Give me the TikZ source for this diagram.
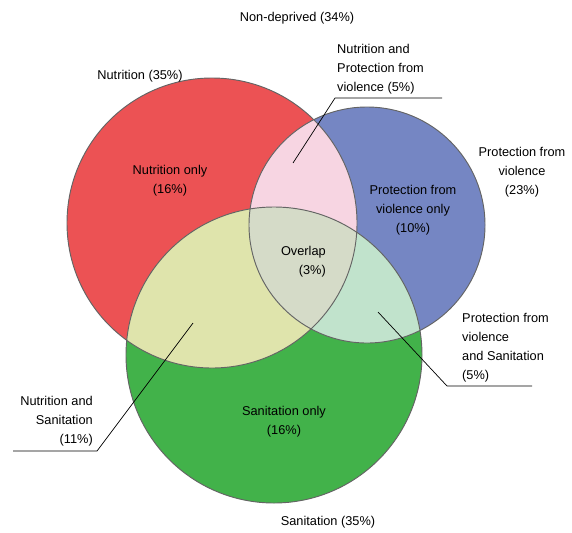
\documentclass[tikz,border=0pt]{standalone}
\usepackage{fontspec}
\setmainfont{Liberation Sans}
\usetikzlibrary{positioning}
\definecolor{nutri}{RGB}{236,82,84}
\definecolor{protec}{RGB}{117,134,195}
\definecolor{sanit}{RGB}{66,178,74}
\definecolor{nutriprotec}{RGB}{247,213,226}
\definecolor{nutrisanit}{RGB}{223,228,172}
\definecolor{protecsanit}{RGB}{193,227,204}
\definecolor{triple}{RGB}{213,219,200}
\definecolor{contour}{RGB}{100,100,100}

\begin{document}
\begin{tikzpicture}[x=0.03cm, y=-0.03cm, font=\fontsize{10.9}{16.2}\selectfont,
		lbl/.style={inner sep=0pt},
		leader/.style={draw=black, line width=0.6pt},
		rim/.style={draw=contour, line width=0.8pt}]
	\useasboundingbox (0,0) rectangle (572,532);
	
	% centres of the three sets
	\coordinate (cN) at (212,223);
	\coordinate (cP) at (367,225);
	\coordinate (cS) at (274,355);
	
	% plain sets
	\fill[nutri] (cN) circle [radius=145];
	\fill[protec] (cP) circle [radius=118];
	\fill[sanit] (cS) circle [radius=148];
	
	% pairwise overlaps
	\begin{scope}
		\clip (cN) circle [radius=145];
		\fill[nutriprotec] (cP) circle [radius=118];
		\fill[nutrisanit] (cS) circle [radius=148];
	\end{scope}
	\begin{scope}
		\clip (cP) circle [radius=118];
		\fill[protecsanit] (cS) circle [radius=148];
		\clip (cN) circle [radius=145];
		\fill[triple] (cS) circle [radius=148];
	\end{scope}
	
	\draw[rim] (cN) circle [radius=145];
	\draw[rim] (cP) circle [radius=118];
	\draw[rim] (cS) circle [radius=148];
	
	% labels
	\node[lbl] (nonDep) at (297,18) {Non-deprived (34\%)};
	\node[lbl] (nutTot) at (140,76) {Nutrition (35\%)};
	\node[lbl, align=center] (nutOnly) at (170,181) {Nutrition only\\(16\%)};
	\node[lbl, align=left, anchor=west] (nutProt) at (337,69.5)
		{Nutrition and\\Protection from\\violence (5\%)};
	\node[lbl, align=center] (protTot) at (522,172) {Protection from\\violence\\(23\%)};
	\node[lbl, align=center] (protOnly) at (413,210) {Protection from\\violence only\\(10\%)};
	\node[lbl, align=right, anchor=east] (overlapTxt) at (326,262) {Overlap\\(3\%)};
	\node[lbl, align=left, anchor=west] (protSan) at (462,348)
		{Protection from\\violence\\and Sanitation\\(5\%)};
	\node[lbl, align=right, anchor=east] (nutSan) at (93,421)
		{Nutrition and\\Sanitation\\(11\%)};
	\node[lbl, align=center] (sanOnly) at (284,422) {Sanitation only\\(16\%)};
	\node[lbl] (sanTot) at (328,522) {Sanitation (35\%)};
	
	% leader lines
	\coordinate (nutProtEnd) at (442,98);
	\coordinate (nutProtKnee) at (335,98);
	\coordinate (nutProtTip) at (293,163);
	\coordinate (protSanEnd) at (532,386);
	\coordinate (protSanKnee) at (447,386);
	\coordinate (protSanTip) at (378,312);
	\coordinate (nutSanEnd) at (13,451);
	\coordinate (nutSanKnee) at (97,451);
	\coordinate (nutSanTip) at (193,323);
	\draw[leader] (nutProtEnd) -- (nutProtKnee) -- (nutProtTip);
	\draw[leader] (protSanEnd) -- (protSanKnee) -- (protSanTip);
	\draw[leader] (nutSanEnd) -- (nutSanKnee) -- (nutSanTip);
\end{tikzpicture}
\end{document}
